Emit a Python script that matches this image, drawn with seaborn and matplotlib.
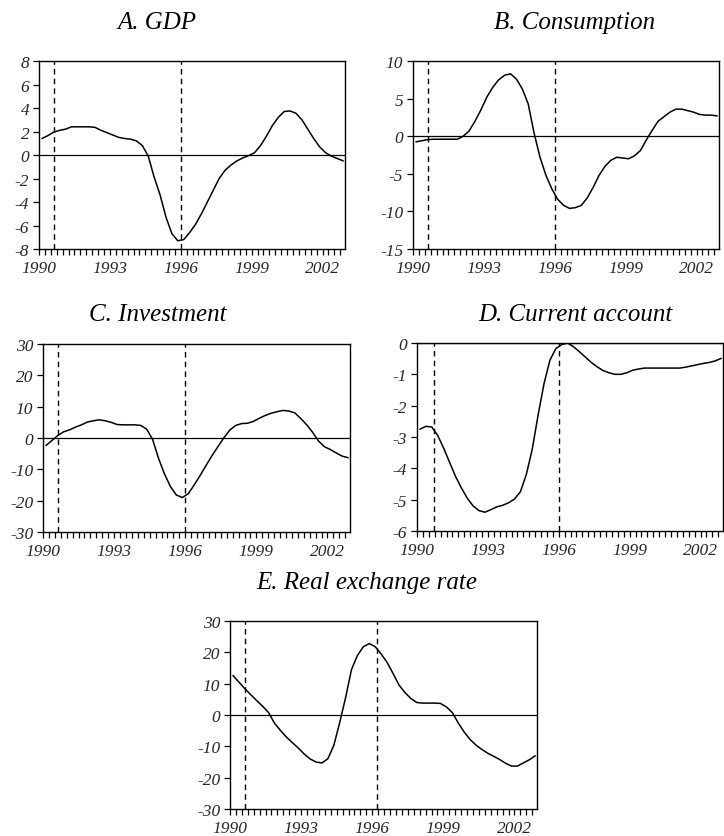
import numpy as np
import pandas as pd
import matplotlib
matplotlib.use("Agg")
import matplotlib.pyplot as plt
from matplotlib.ticker import FixedLocator, MultipleLocator
import seaborn as sns

# ---------------- data (quarterly, 1990Q1 - 2002Q4) ----------------
quarters = [1990 + 0.125 + 0.25 * i for i in range(52)]

gdp = [1.4, 1.65, 1.95, 2.1, 2.2, 2.4, 2.4, 2.4, 2.4, 2.35, 2.1, 1.9, 1.7,
       1.5, 1.4, 1.35, 1.2, 0.8, -0.1, -1.9, -3.4, -5.3, -6.7, -7.3, -7.2,
       -6.6, -5.9, -5.0, -4.0, -3.0, -2.0, -1.3, -0.85, -0.5, -0.25, -0.05,
       0.2, 0.8, 1.6, 2.5, 3.2, 3.7, 3.75, 3.55, 3.0, 2.2, 1.4, 0.7, 0.2,
       -0.1, -0.3, -0.5]

consumption = [-0.75, -0.6, -0.45, -0.4, -0.4, -0.4, -0.4, -0.4, 0.0, 0.7,
               2.0, 3.5, 5.2, 6.5, 7.5, 8.1, 8.3, 7.6, 6.3, 4.3, 0.4, -2.8,
               -5.2, -7.0, -8.4, -9.2, -9.6, -9.5, -9.2, -8.2, -6.8, -5.2,
               -4.0, -3.2, -2.8, -2.9, -3.0, -2.6, -1.9, -0.5, 0.8, 2.0, 2.6,
               3.2, 3.6, 3.6, 3.4, 3.2, 2.9, 2.8, 2.8, 2.7]

investment = [-2.4, -0.8, 0.8, 2.0, 2.6, 3.5, 4.2, 5.1, 5.5, 5.8, 5.5, 5.0,
              4.3, 4.2, 4.2, 4.2, 4.0, 2.8, -0.5, -6.5, -11.5, -15.5, -18.2,
              -19.0, -17.8, -15.0, -12.0, -8.8, -5.7, -2.8, 0.0, 2.5, 4.0,
              4.6, 4.7, 5.3, 6.3, 7.2, 7.9, 8.4, 8.8, 8.6, 8.0, 6.2, 4.2, 1.8,
              -1.0, -2.8, -3.7, -4.8, -5.8, -6.3]

current_account = [-2.75, -2.66, -2.68, -2.95, -3.35, -3.8, -4.25, -4.62,
                   -4.95, -5.2, -5.35, -5.4, -5.32, -5.23, -5.18, -5.1, -4.98,
                   -4.75, -4.2, -3.4, -2.3, -1.3, -0.55, -0.18, -0.05, 0.0,
                   -0.12, -0.28, -0.45, -0.62, -0.76, -0.88, -0.95, -1.0, -1.0,
                   -0.95, -0.87, -0.83, -0.8, -0.8, -0.8, -0.8, -0.8, -0.8,
                   -0.8, -0.77, -0.73, -0.69, -0.65, -0.62, -0.57, -0.49]

real_exchange_rate = [12.6, 10.5, 8.4, 6.5, 4.6, 2.8, 0.8, -2.6, -4.9, -7.0,
                      -8.8, -10.5, -12.4, -14.0, -15.0, -15.3, -14.0, -9.8,
                      -2.5, 5.5, 14.5, 19.0, 21.8, 22.8, 21.8, 19.5, 16.8,
                      13.3, 9.6, 7.2, 5.3, 4.0, 3.8, 3.8, 3.8, 3.7, 2.6, 0.8,
                      -2.5, -5.4, -7.8, -9.6, -11.0, -12.2, -13.2, -14.2,
                      -15.4, -16.3, -16.3, -15.3, -14.3, -13.0]

titles = ["A. GDP", "B. Consumption", "C. Investment",
          "D. Current account", "E. Real exchange rate"]
year_labels = [1990, 1993, 1996, 1999, 2002]
y_ticks = [[-8, -6, -4, -2, 0, 2, 4, 6, 8],
           [-15, -10, -5, 0, 5, 10],
           [-30, -20, -10, 0, 10, 20, 30],
           [-6, -5, -4, -3, -2, -1, 0],
           [-30, -20, -10, 0, 10, 20, 30]]
event_dates = [[1990.63, 1996.0], [1990.63, 1996.0], [1990.65, 1996.0],
               [1990.7, 1996.02], [1990.63, 1996.22]]

series = [gdp, consumption, investment, current_account, real_exchange_rate]

# ---------------- style ----------------
sns.set_style("ticks")
plt.rcParams["font.family"] = ["Liberation Serif", "DejaVu Serif"]
plt.rcParams["font.style"] = "italic"
plt.rcParams["axes.unicode_minus"] = False

W, H = 724, 837
fig = plt.figure(figsize=(W / 100, H / 100), dpi=100)

# pixel boxes: left, right, top, bottom
boxes = [(39, 345, 62, 250), (413, 719, 62, 250), (43, 350, 345, 533),
         (417, 723, 344, 532), (230, 537, 622, 810)]
title_pos = [(157, 23), (575, 23), (158, 315), (575, 315), (367, 583)]

for k in range(5):
    l, r, t, b = boxes[k]
    ax = fig.add_axes([l / W, 1 - b / H, (r - l) / W, (b - t) / H])
    df = pd.DataFrame({"x": quarters, "y": series[k]})
    sns.lineplot(data=df, x="x", y="y", ax=ax, color="black", lw=1.1)
    ax.axhline(0, color="black", lw=0.9)
    for d in event_dates[k]:
        ax.axvline(d, color="black", lw=1.0, ls=(0, (4, 3)))
    ax.set_xlim(1990.0, 2002.95)
    ax.set_ylim(y_ticks[k][0], y_ticks[k][-1])
    ax.set_xticks(year_labels, [str(y) for y in year_labels],
                  fontstyle="italic", fontsize=12.5)
    ax.set_yticks(y_ticks[k], [str(v) for v in y_ticks[k]],
                  fontstyle="italic", fontsize=12.5)
    ax.xaxis.set_minor_locator(MultipleLocator(0.25))
    ax.tick_params(axis="x", which="both", direction="out", length=4,
                   width=0.9, pad=4, color="black")
    ax.tick_params(axis="y", which="major", direction="out", length=4,
                   width=0.9, pad=3, color="black")
    for s in ax.spines.values():
        s.set_visible(True)
        s.set_color("black")
        s.set_linewidth(1.0)
    ax.set_xlabel("")
    ax.set_ylabel("")
    tx, ty = title_pos[k]
    fig.text(tx / W, 1 - ty / H, titles[k], ha="center", va="center",
             fontsize=18, fontstyle="italic", color="black")

fig.savefig("out.png", dpi=100)
